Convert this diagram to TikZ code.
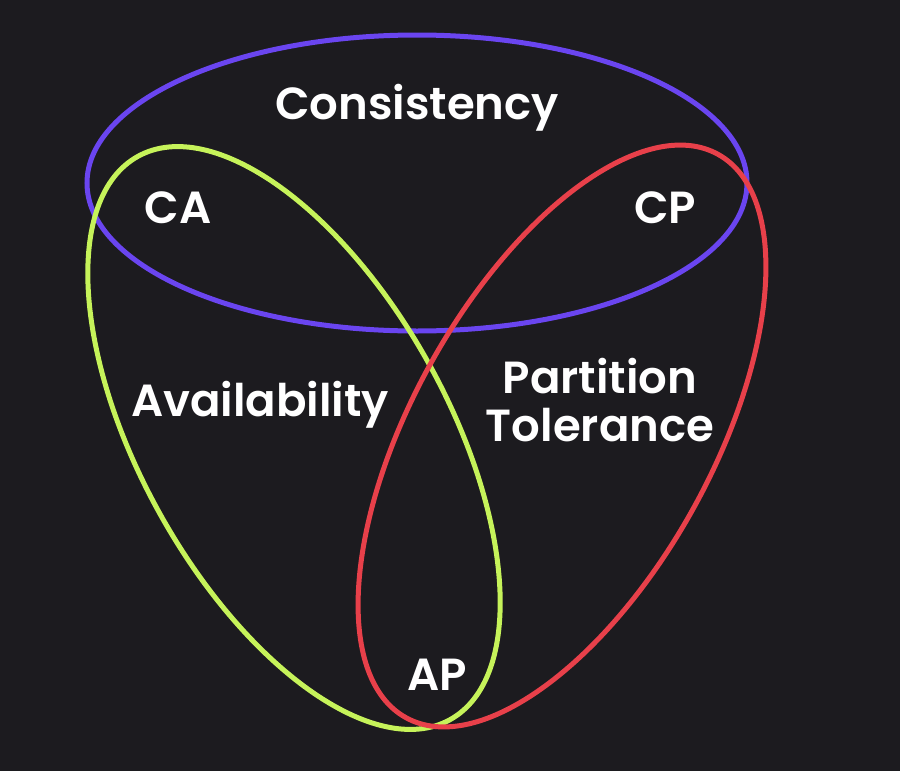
\documentclass[tikz,border=0pt]{standalone}
\usepackage{fontspec}
\setmainfont{Poppins}[BoldFont={* SemiBold}]
\definecolor{bg}{HTML}{1C1B1F}
\definecolor{cblue}{HTML}{6A45F0}
\definecolor{cgreen}{HTML}{C6F35A}
\definecolor{cred}{HTML}{E8404A}
\begin{document}
\begin{tikzpicture}[x=1pt,y=-1pt,
  ring/.style={line width=5pt},
  lbl/.style={text=white,font=\fontsize{45}{56}\selectfont\bfseries,align=center}]
\fill[bg] (0,0) rectangle (900,771);
\useasboundingbox (0,0) rectangle (900,771);
\draw[ring,cblue] (417,183) ellipse [x radius=330,y radius=148];
\draw[ring,cgreen] (294,438) ellipse [x radius=322,y radius=154,rotate=-61];
\draw[ring,cred] (562,436) ellipse [x radius=322,y radius=150,rotate=61];
\node[lbl] (c) at (417,108) {Consistency};
\node[lbl] (ca) at (178,208) {CA};
\node[lbl] (cp) at (665,208) {CP};
\node[lbl] (a) at (260,405) {Availability};
\node[lbl] (p) at (600,400) {Partition\\[-8pt]Tolerance};
\node[lbl] (ap) at (437,675) {AP};
\end{tikzpicture}
\end{document}
